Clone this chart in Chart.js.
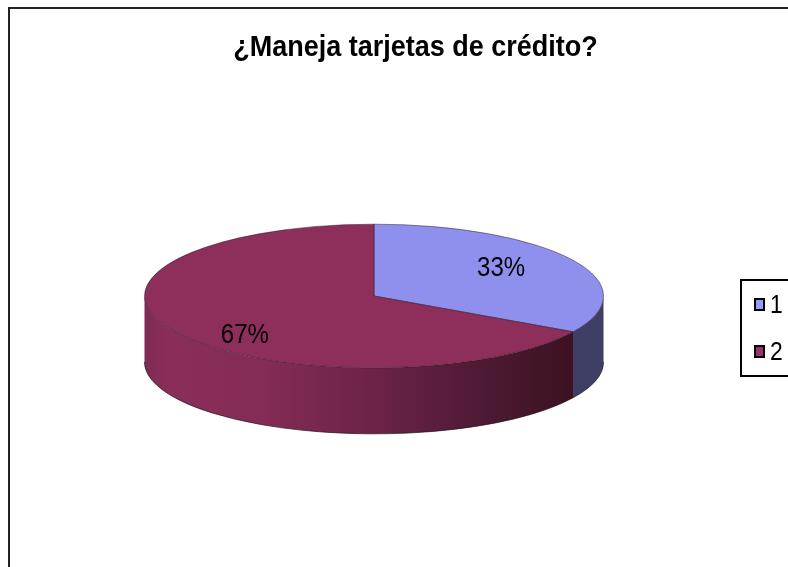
<!DOCTYPE html>
<html>
<head>
<meta charset="utf-8">
<script src="https://cdn.jsdelivr.net/npm/chart.js"></script>
<style>
html, body { margin: 0; padding: 0; background: #fff; }
canvas { display: block; }
</style>
</head>
<body>
<canvas id="visualization" width="788" height="567"></canvas>
<script>
const title_text = '¿Maneja tarjetas de crédito?';
const categories = ['1', '2'];
const values = [33.3, 66.7];
const slice_colors = ['#8f90ee', '#8e2f5b'];
const legend_colors = ['#9999ff', '#993366'];

const font_family = '"Liberation Sans", Arial, sans-serif';
const squash = 72 / 230;
const depth = 66;
// radius fraction and vertical nudge of each percent label
const label_spots = [{ r: 0.64, dy: -4 }, { r: 0.65, dy: 16 }];

// the original text is narrow and tall, so squeeze it sideways
function narrow_text(ctx, text, x, y, font, sx, align) {
    ctx.save();
    ctx.translate(x, y);
    ctx.scale(sx, 1);
    ctx.font = font;
    ctx.textAlign = align;
    ctx.textBaseline = 'middle';
    ctx.fillStyle = '#000';
    ctx.fillText(text, 0, 0);
    ctx.restore();
}

function side_fill(ctx, index, x, r) {
    if (index === 0) return '#3f3f66';
    const g = ctx.createLinearGradient(x - r, 0, x + r, 0);
    g.addColorStop(0, '#7e2a52');
    g.addColorStop(0.05, '#8a2e58');
    g.addColorStop(0.25, '#842c55');
    g.addColorStop(0.5, '#6c2346');
    g.addColorStop(0.75, '#4c1932');
    g.addColorStop(0.93, '#3d1122');
    g.addColorStop(1, '#3d1122');
    return g;
}

const pie3d = {
    id: 'pie3d',
    beforeDraw(chart) {
        const ctx = chart.ctx;
        ctx.save();
        ctx.fillStyle = '#222';
        ctx.fillRect(8, 7, 780, 2);
        ctx.fillRect(8, 7, 2, 560);
        ctx.restore();
        narrow_text(ctx, title_text, 415.5, 48, 'bold 30px ' + font_family, 0.9, 'center');
    },
    beforeDatasetsDraw(chart) {
        const ctx = chart.ctx;
        chart.getDatasetMeta(0).data.forEach((arc, i) => {
            const a0 = Math.max(arc.startAngle, 0);
            const a1 = Math.min(arc.endAngle, Math.PI);
            if (a1 <= a0) return;
            const rx = arc.outerRadius;
            const ry = rx * squash;
            ctx.beginPath();
            ctx.ellipse(arc.x, arc.y, rx, ry, 0, a0, a1);
            ctx.ellipse(arc.x, arc.y + depth, rx, ry, 0, a1, a0, true);
            ctx.closePath();
            ctx.fillStyle = side_fill(ctx, i, arc.x, rx);
            ctx.fill();
            ctx.beginPath();
            ctx.ellipse(arc.x, arc.y + depth, rx, ry, 0, a0, a1);
            ctx.strokeStyle = 'rgba(30,15,25,0.7)';
            ctx.lineWidth = 1;
            ctx.stroke();
        });
        const first = chart.getDatasetMeta(0).data[0];
        ctx.save();
        ctx.translate(first.x, first.y);
        ctx.scale(1, squash);
        ctx.translate(-first.x, -first.y);
    },
    afterDatasetsDraw(chart) {
        const ctx = chart.ctx;
        ctx.restore();
        const total = values.reduce((a, b) => a + b, 0);
        chart.getDatasetMeta(0).data.forEach((arc, i) => {
            const mid = (arc.startAngle + arc.endAngle) / 2;
            const r = arc.outerRadius * label_spots[i].r;
            const x = arc.x + Math.cos(mid) * r;
            const y = arc.y + Math.sin(mid) * r * squash + label_spots[i].dy;
            narrow_text(ctx, Math.round(values[i] / total * 100) + '%', x, y, '27px ' + font_family, 0.89, 'center');
        });
    },
    afterDraw(chart) {
        const ctx = chart.ctx;
        ctx.save();
        ctx.strokeStyle = '#000';
        ctx.lineWidth = 2;
        ctx.strokeRect(741, 280, 60, 96);
        categories.forEach((label, i) => {
            const y = 305 + i * 47;
            ctx.fillStyle = legend_colors[i];
            ctx.fillRect(755, y - 6, 9, 11);
            ctx.strokeRect(755, y - 6, 9, 11);
            narrow_text(ctx, label, 770, y + 1, '26px ' + font_family, 0.88, 'left');
        });
        ctx.restore();
    }
};

function create_chart(ele) {
    return new Chart(ele, {
        type: 'pie',
        data: {
            labels: categories,
            datasets: [{
                data: values,
                backgroundColor: slice_colors,
                borderColor: 'rgba(30,15,25,0.7)',
                borderWidth: 1,
            }]
        },
        options: {
            responsive: false,
            animation: false,
            layout: { padding: { left: 7, right: 47, top: 66, bottom: 41 } },
            plugins: {
                legend: { display: false },
                tooltip: { enabled: false },
            }
        },
        plugins: [pie3d]
    });
}

create_chart(document.getElementById('visualization'));
</script>
</body>
</html>
